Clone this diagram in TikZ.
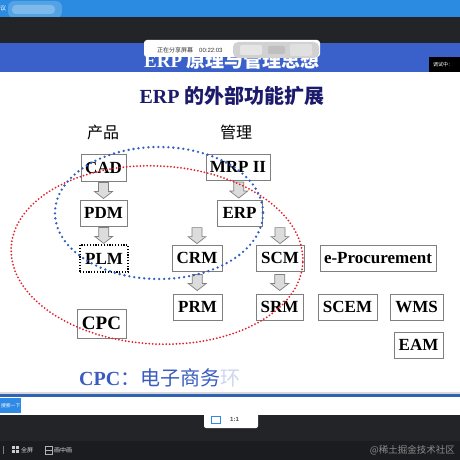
\documentclass[tikz,border=0pt]{standalone}
\usepackage{fontspec}
\setmainfont{Liberation Serif}
\newfontfamily\cjk{Noto Sans CJK SC}
\newfontfamily\uisans{Liberation Sans}
\usetikzlibrary{calc}
\definecolor{topblue}{HTML}{2A8BE0}
\definecolor{darkbar}{HTML}{222428}
\definecolor{darkbarb}{HTML}{1B1C1F}
\definecolor{titleblue}{HTML}{3A60C9}
\definecolor{navy}{HTML}{1C1A6A}
\definecolor{boxgray}{HTML}{7F7F7F}
\definecolor{arrfill}{HTML}{DCDCDC}
\definecolor{myred}{HTML}{E4202A}
\definecolor{myblue}{HTML}{2F5FC0}
\definecolor{cpcblue}{HTML}{3A5CC0}
\definecolor{lineblue}{HTML}{2F62B5}
\definecolor{btnblue}{HTML}{2F8AE6}
\tikzset{
  box/.style={draw=boxgray, line width=0.8pt, fill=white, inner sep=0pt,
    minimum height=26, font=\bfseries\fontsize{17}{17}\selectfont},
  plmbox/.style={box, draw=black, line width=1.2pt, dash pattern=on 1.2pt off 1.6pt},
  blockarrow/.style={draw=boxgray, fill=arrfill, line width=0.7pt},
  darrow/.pic={\draw[blockarrow] (-5,-8) -- (5,-8) -- (5,1) -- (9,1) -- (0,8) -- (-9,1) -- (-5,1) -- cycle;},
  reddot/.style={draw=myred, line width=2pt, line cap=round, dash pattern=on 0pt off 3.4pt},
  bluedot/.style={draw=myblue, line width=2.6pt, line cap=round, dash pattern=on 0pt off 5pt},
  uitext/.style={inner sep=0pt, font=\cjk\fontsize{6}{6}\selectfont},
}
\begin{document}
\begin{tikzpicture}[x=1pt,y=-1pt]
\useasboundingbox (0,0) rectangle (460,460);
% window chrome
\fill[topblue] (0,0) rectangle (460,17);
\fill[white, opacity=0.2, rounded corners=6] (8,1) rectangle (62,18);
\fill[white, opacity=0.25, rounded corners=4] (12,5) rectangle (55,14);
\node[uitext, white, anchor=west] (tl) at (0,8) {议};
\fill[darkbar] (0,17) rectangle (460,43);
\fill[titleblue] (0,43) rectangle (460,72);
\node[inner sep=0pt, white, font=\bfseries\fontsize{19}{19}\selectfont] (oldtitle) at (232,60) {ERP {\cjk 原理与管理思想}};
% share popup
\fill[white, rounded corners=3] (144,40) rectangle (320,57);
\node[uitext, anchor=west, black!80] (share) at (157,50.5) {正在分享屏幕};
\node[uitext, anchor=west, black!80, font=\uisans\fontsize{6}{6}\selectfont] (time) at (199,50.5) {00:22:03};
\fill[black!18, rounded corners=5] (233,42) rectangle (319,58);
\fill[black!10, rounded corners=2] (240,45) rectangle (262,55);
\fill[black!25, rounded corners=2] (268,46) rectangle (285,54);
\fill[black!12, rounded corners=2] (290,44) rectangle (312,56);
% right label
\fill[black] (429,57) rectangle (460,72);
\node[uitext, white, anchor=west, font=\cjk\fontsize{5}{5}\selectfont] (debug) at (433,64.5) {调试中：};
% slide area
\fill[white] (0,72) rectangle (460,392);
\node[inner sep=0pt, navy, font=\bfseries\fontsize{20}{20}\selectfont] (title) at (232,96) {ERP {\cjk 的外部功能扩展}};
\node[inner sep=0pt, font=\cjk\fontsize{16}{16}\selectfont] (prod) at (103,132) {产品};
\node[inner sep=0pt, font=\cjk\fontsize{16}{16}\selectfont] (mgmt) at (236,132) {管理};
% boxes
\node[box, minimum width=45, minimum height=27] (cad) at (103.5,167.5) {CAD};
\node[box, minimum width=64] (mrp) at (238,167) {MRP II};
\node[box, minimum width=47] (pdm) at (103.5,213) {PDM};
\node[box, minimum width=45] (erp) at (239.5,213) {ERP};
\node[plmbox, minimum width=48, minimum height=27] (plm) at (104,258.5) {PLM};
\node[box, minimum width=50] (crm) at (197,258) {CRM};
\node[box, minimum width=48] (scm) at (280,258) {SCM};
\node[box, minimum width=116] (eproc) at (378,258) {e-Procurement};
\node[box, minimum width=49] (prm) at (197.5,307) {PRM};
\node[box, minimum width=47] (srm) at (279.5,307) {SRM};
\node[box, minimum width=59] (scem) at (347.5,307) {SCEM};
\node[box, minimum width=53] (wms) at (416.5,307) {WMS};
\node[box, minimum width=49] (eam) at (418.5,345) {EAM};
\node[box, minimum width=49, minimum height=29, font=\bfseries\fontsize{19}{19}\selectfont] (cpc) at (101.5,323.5) {CPC};
% block arrows
\pic at ($(cad.south)!0.5!(pdm.north)$) {darrow};
\pic at ($(pdm.south)!0.5!(plm.north)$) {darrow};
\pic at ($(mrp.south)!0.5!(erp.north)$) {darrow};
\pic at ($(crm.north)+(0,-9)$) {darrow};
\pic at ($(scm.north)+(0,-9)$) {darrow};
\pic at ($(crm.south)!0.5!(prm.north)$) {darrow};
\pic at ($(scm.south)!0.5!(srm.north)$) {darrow};
% dotted ellipses
\draw[reddot, rotate around={-3:(157,255)}] (157,255) ellipse [x radius=146, y radius=89];
\draw[bluedot] (159,213) ellipse [x radius=104, y radius=66];
% bottom text
\node[inner sep=0pt, anchor=west, cpcblue, font=\fontsize{20}{20}\selectfont] (cpcdef) at (79,378)
  {\bfseries CPC{\cjk\mdseries ：电子商务}{\cjk\mdseries\color{cpcblue!25}环}};
% bottom chrome
\fill[black!15] (0,392) rectangle (460,394);
\fill[lineblue] (0,394) rectangle (460,397);
\fill[white] (0,397) rectangle (460,415);
\fill[btnblue] (0,398) rectangle (21,413);
\node[uitext, white, anchor=east, font=\cjk\fontsize{4.8}{4.8}\selectfont] (search) at (20.5,405.5) {搜索一下};
\fill[darkbar] (0,415) rectangle (460,441);
\fill[darkbarb] (0,441) rectangle (460,460);
\fill[white, rounded corners=2] (204,410) rectangle (258,428);
\draw[btnblue, line width=0.8pt] (211,416) rectangle (220,423);
\draw[btnblue, line width=1.4pt] (211,416.5) -- (220,416.5);
\node[uitext, black!70, anchor=west, font=\uisans\bfseries\fontsize{6}{6}\selectfont] (ratio) at (230,419) {1:1};
\draw[black!50, line width=0.5pt] (3,446) -- (3,454);
\foreach \dx/\dy in {12/446,16/446,12/450,16/450} \fill[black!20] (\dx,\dy) rectangle ++(3,3);
\node[uitext, black!15, anchor=west] (full) at (21,450) {全屏};
\draw[black!30, line width=0.6pt] (45,446) rectangle (52,454);
\draw[black!30, line width=0.6pt] (45,450) -- (52,450);
\node[uitext, black!15, anchor=west] (pip) at (54,450) {画中画};
\node[inner sep=0pt, anchor=east, black!45, font=\cjk\fontsize{9.5}{9.5}\selectfont] (wm) at (455,450) {@稀土掘金技术社区};
\end{tikzpicture}
\end{document}
